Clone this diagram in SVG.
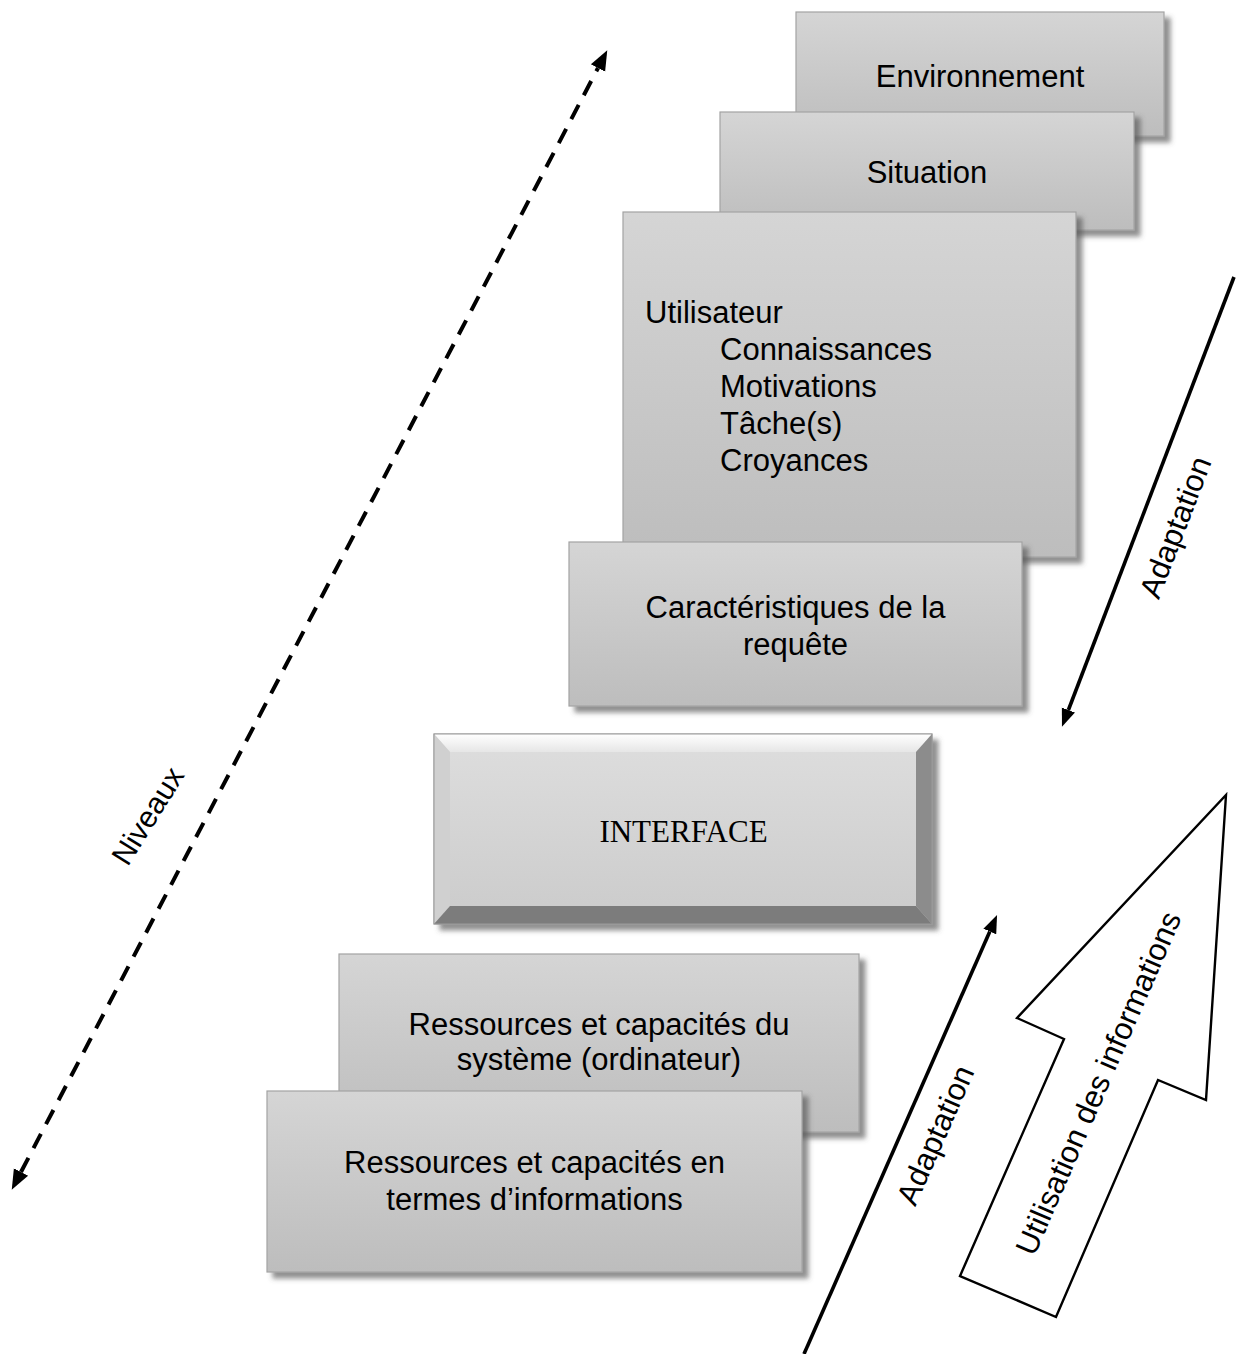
<svg xmlns="http://www.w3.org/2000/svg" width="1236" height="1354" viewBox="0 0 1236 1354">
<defs>
<style>
.t{font-family:"Liberation Sans",Arial,sans-serif;font-size:31px;fill:#000}
.tm{text-anchor:middle}
.serif{font-family:"Liberation Serif","Times New Roman",serif;font-size:31px;fill:#000;text-anchor:middle}
.box{fill:url(#g);stroke:#a3a3a3;stroke-width:1.2;filter:url(#sh)}
.ln{stroke:#000;stroke-width:3.6;fill:none}
.dash{stroke:#000;stroke-width:4;fill:none;stroke-dasharray:16 11}
</style>
<linearGradient id="g" x1="0" y1="0" x2="0" y2="1">
<stop offset="0" stop-color="#d5d5d5"/>
<stop offset="1" stop-color="#bdbdbd"/>
</linearGradient>
<linearGradient id="gi" x1="0" y1="0" x2="0" y2="1">
<stop offset="0" stop-color="#dedede"/>
<stop offset="1" stop-color="#cbcbcb"/>
</linearGradient>
<linearGradient id="gt" x1="0" y1="0" x2="0" y2="1">
<stop offset="0" stop-color="#ffffff"/>
<stop offset="1" stop-color="#e6e6e6"/>
</linearGradient>
<filter id="sh" x="-10%" y="-10%" width="130%" height="130%">
<feDropShadow dx="6" dy="6" stdDeviation="2.5" flood-color="#555" flood-opacity="0.65"/>
</filter>
<marker id="ah" markerUnits="userSpaceOnUse" markerWidth="22" markerHeight="18" viewBox="0 -9 22 18" refX="0" refY="0" orient="auto-start-reverse">
<path d="M0,-8 L20,0 L0,8 z" fill="#000"/>
</marker>
<marker id="ah2" markerUnits="userSpaceOnUse" markerWidth="20" markerHeight="16" viewBox="0 -8 20 16" refX="0" refY="0" orient="auto">
<path d="M0,-7 L18,0 L0,7 z" fill="#000"/>
</marker>
</defs>
<rect width="1236" height="1354" fill="#fff"/>

<g id="environnement">
<rect class="box" x="796" y="12" width="368" height="124"/>
<text class="t tm" x="980" y="87">Environnement</text>
</g>
<g id="situation">
<rect class="box" x="720" y="112" width="414" height="118"/>
<text class="t tm" x="927" y="183">Situation</text>
</g>
<g id="utilisateur">
<rect class="box" x="623" y="212" width="453" height="345"/>
<text class="t" x="645" y="323">Utilisateur</text>
<text class="t" x="720" y="360">Connaissances</text>
<text class="t" x="720" y="397">Motivations</text>
<text class="t" x="720" y="434">Tâche(s)</text>
<text class="t" x="720" y="471">Croyances</text>
</g>
<g id="requete">
<rect class="box" x="569" y="542" width="453" height="164"/>
<text class="t tm" x="795.5" y="618">Caractéristiques de la</text>
<text class="t tm" x="795.5" y="655">requête</text>
</g>
<g id="interface">
<g filter="url(#sh)">
<rect x="434" y="734" width="498" height="190" fill="url(#gi)" stroke="#9a9a9a" stroke-width="1"/>
</g>
<polygon points="434,734 932,734 916,752 450,752" fill="url(#gt)"/>
<polygon points="434,734 450,752 450,906 434,924" fill="#d0d0d0"/>
<polygon points="932,734 932,924 916,906 916,752" fill="#8c8c8c"/>
<polygon points="434,924 932,924 916,906 450,906" fill="#7c7c7c"/>
<rect x="434" y="734" width="498" height="190" fill="none" stroke="#9a9a9a" stroke-width="1"/>
<text class="serif" x="683.5" y="842">INTERFACE</text>
</g>
<g id="ressources-systeme">
<rect class="box" x="339" y="954" width="520" height="178"/>
<text class="t tm" x="599" y="1035">Ressources et capacités du</text>
<text class="t tm" x="599" y="1070">système (ordinateur)</text>
</g>
<g id="ressources-informations">
<rect class="box" x="267" y="1091" width="535" height="181"/>
<text class="t tm" x="534.5" y="1173">Ressources et capacités en</text>
<text class="t tm" x="534.5" y="1210">termes d’informations</text>
</g>
<g id="utilisation">
<polygon points="1226,795 1206,1100 1158,1080 1056,1317 960,1276 1064,1039 1017,1018" fill="#fff" stroke="#000" stroke-width="2.4" stroke-linejoin="miter"/>
<text class="t tm" transform="translate(1098,1083) rotate(-66.5)" y="11">Utilisation des informations</text>
</g>

<g id="connectors">
<line class="dash" x1="21" y1="1172" x2="598" y2="68" marker-start="url(#ah)" marker-end="url(#ah)"/>
<line class="ln" x1="1234" y1="277" x2="1068.4" y2="710" marker-end="url(#ah2)"/>
<line class="ln" x1="804" y1="1354" x2="989.8" y2="931.5" marker-end="url(#ah2)"/>
<text class="t tm" style="font-size:30px" transform="translate(148,816) rotate(-58)" y="10">Niveaux</text>
<text class="t tm" transform="translate(1175,527) rotate(-69)" y="11">Adaptation</text>
<text class="t tm" transform="translate(935,1135) rotate(-66.3)" y="11">Adaptation</text>
</g>
</svg>
